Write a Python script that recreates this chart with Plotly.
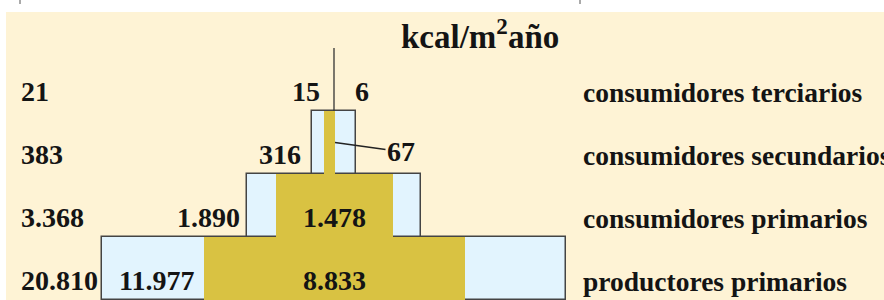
import plotly.graph_objects as go

# ---- data (trophic pyramid, kcal/m² año) ----
levels = ["productores primarios", "consumidores primarios",
          "consumidores secundarios", "consumidores terciarios"]
total_labels = ["20.810", "3.368", "383", "21"]
lost_labels = ["11.977", "1.890", "316", "15"]
passed_labels = ["8.833", "1.478", "67", "6"]
title_text = "kcal/m<sup>2</sup>año"

# schematic geometry of the drawing (diagram units, centred on the pyramid axis)
box_half = [232, 87, 22]
gold_left = [-130, -58, -10]
gold_right = [131, 59, 1]
lost_x = [-178, -126, -54, -28]
passed_x = [0, 0, None, 28]

rows = list(range(len(levels)))
FONT = "Liberation Serif"
INK = "#141414"

fig = go.Figure()

# outlined light-blue boxes
fig.add_trace(go.Bar(
    y=rows[:3], x=[2 * h for h in box_half], base=[-h for h in box_half],
    orientation="h", width=1,
    marker=dict(color="#E2F4FE", line=dict(color="#444444", width=1.5)),
    hoverinfo="skip", showlegend=False))

# gold (transferred) part, drawn over the outlines as one continuous column
fig.add_trace(go.Bar(
    y=rows[:3], x=[r - l for l, r in zip(gold_left, gold_right)], base=gold_left,
    orientation="h", width=1,
    marker=dict(color="#D9C242", line=dict(width=0)),
    hoverinfo="skip", showlegend=False))

# top level drawn as a thin line
fig.add_trace(go.Scatter(
    x=[0, 0], y=[rows[3] - 0.5, rows[3] + 0.5], mode="lines",
    line=dict(color="#333333", width=1.3), hoverinfo="skip", showlegend=False))

NUM = 28
LAB = 27.5
ann = []
for i in rows:
    ann.append(dict(x=-315, y=i, xanchor="left", yanchor="middle", yshift=-12,
                    text="<b>%s</b>" % total_labels[i], showarrow=False,
                    font=dict(family=FONT, size=NUM, color=INK)))
    ann.append(dict(x=lost_x[i], y=i, xanchor="center", yanchor="middle", yshift=-12,
                    text="<b>%s</b>" % lost_labels[i], showarrow=False,
                    font=dict(family=FONT, size=NUM, color=INK)))
    if passed_x[i] is not None:
        ann.append(dict(x=passed_x[i], y=i, xanchor="center", yanchor="middle", yshift=-12,
                        text="<b>%s</b>" % passed_labels[i], showarrow=False,
                        font=dict(family=FONT, size=NUM, color=INK)))
    else:
        ann.append(dict(x=1, y=i, ax=66, ay=9, axref="pixel", ayref="pixel",
                        text="<b>%s</b>" % passed_labels[i], showarrow=True,
                        arrowhead=0, arrowwidth=1.5, arrowcolor="#222222", standoff=0,
                        font=dict(family=FONT, size=NUM, color=INK)))
    ann.append(dict(x=247, y=i, xanchor="left", yanchor="middle", yshift=-13,
                    text="<b>%s</b>" % levels[i], showarrow=False,
                    font=dict(family=FONT, size=LAB, color=INK)))

ann.append(dict(x=480 / 884, y=1 - 34 / 300, xref="paper", yref="paper",
                xanchor="center", yanchor="middle", text="<b>%s</b>" % title_text,
                showarrow=False, font=dict(family=FONT, size=33, color=INK)))

fig.update_layout(
    width=884, height=300, margin=dict(l=0, r=0, t=0, b=0),
    paper_bgcolor="white", plot_bgcolor="rgba(0,0,0,0)",
    barmode="overlay", bargap=0,
    xaxis=dict(range=[-334, 550], visible=False, fixedrange=True),
    yaxis=dict(range=[-0.5, 4.262], visible=False, fixedrange=True),
    annotations=ann,
    shapes=[
        dict(type="rect", xref="paper", yref="paper", x0=6 / 884, x1=1, y0=0, y1=1 - 12 / 300,
             fillcolor="#FEF3D5", line=dict(width=0), layer="below"),
        dict(type="line", xref="paper", yref="paper", x0=20 / 884, x1=20 / 884,
             y0=1, y1=1 - 4 / 300, line=dict(color="#555555", width=1)),
        dict(type="line", xref="paper", yref="paper", x0=580 / 884, x1=580 / 884,
             y0=1, y1=1 - 4 / 300, line=dict(color="#555555", width=1)),
    ],
)

fig.write_html("out.html", config={"displayModeBar": False},
               post_script="document.body.style.margin='0';document.body.style.overflow='hidden';")
